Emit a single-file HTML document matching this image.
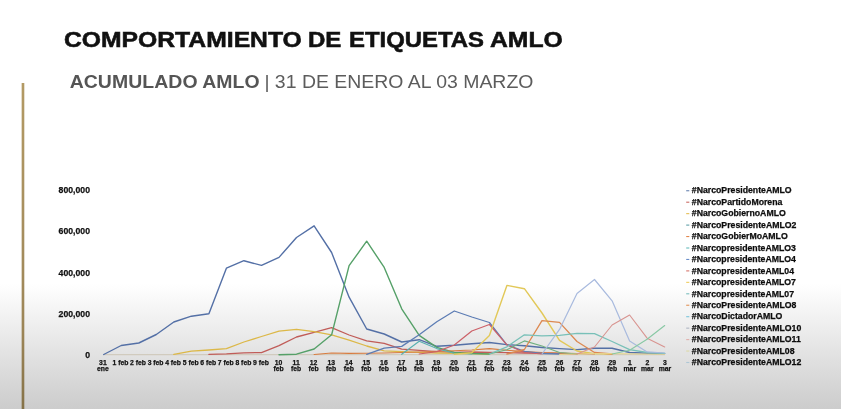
<!DOCTYPE html>
<html lang="es"><head><meta charset="utf-8"><title>Comportamiento de etiquetas AMLO</title>
<style>
html,body{margin:0;padding:0}
body{width:841px;height:409px;overflow:hidden;position:relative;font-family:"Liberation Sans",Arial,sans-serif;
background:linear-gradient(to bottom,#ffffff 0px,#ffffff 284px,#cccccc 409px)}
.bar{position:absolute;left:21px;top:83px;width:4px;height:326px;background:linear-gradient(to bottom,#b39a64 0,#a68e5e 150px,#9b8456 250px,#857248 326px);-webkit-mask-image:linear-gradient(to right,rgba(0,0,0,.35) 0,rgba(0,0,0,.35) 0.7px,#000 0.9px,#000 3.3px,rgba(0,0,0,.3) 3.5px);mask-image:linear-gradient(to right,rgba(0,0,0,.35) 0,rgba(0,0,0,.35) 0.7px,#000 0.9px,#000 3.3px,rgba(0,0,0,.3) 3.5px)}
h1{position:absolute;left:0;top:25.5px;margin:0;font-size:21.9px;line-height:28px;font-weight:bold;color:#111;white-space:nowrap;-webkit-text-stroke:0.55px #111;width:600px;height:28px}
h1 span{position:absolute;top:0;transform-origin:0 0;display:block}
h2{position:absolute;left:69.7px;top:71px;margin:0;font-size:19.45px;line-height:22px;font-weight:normal;color:#5c5c5c;white-space:nowrap;transform-origin:0 5px;transform:scaleY(0.955)}
h2 b{color:#555;letter-spacing:0.05px;margin-right:-0.7px}
.yl{position:absolute;left:40px;width:50px;text-align:right;font-size:8.7px;line-height:10px;font-weight:bold;color:#111;-webkit-text-stroke:0.25px #111}
.xl{position:absolute;top:359.6px;width:30px;text-align:center;font-size:6.8px;line-height:6.4px;font-weight:bold;color:#111;white-space:nowrap;-webkit-text-stroke:0.25px #111}
.lg{position:absolute;left:691.8px;font-size:8.72px;line-height:10px;font-weight:bold;color:#0c0c0c;white-space:nowrap;-webkit-text-stroke:0.25px #0c0c0c}
svg{position:absolute;left:0;top:0}
.soft{filter:blur(0.35px)}
svg{filter:blur(0.3px)}
h1{filter:blur(0.3px)}
h2{filter:blur(0.3px)}
</style></head><body>
<div class="bar"></div>
<h1><span style="left:64px;transform:scaleX(1.128)">COMPORTAMIENTO </span><span style="left:308px;transform:scaleX(1.098)">DE </span><span style="left:348.5px;transform:scaleX(1.092)">ETIQUETAS </span><span style="left:489.8px;transform:scaleX(1.129)">AMLO</span></h1>
<h2><b>ACUMULADO AMLO</b> | 31 DE ENERO AL 03 MARZO</h2>
<div class="soft">
<div class="yl" style="top:185.0px">800,000</div>
<div class="yl" style="top:226.3px">600,000</div>
<div class="yl" style="top:267.5px">400,000</div>
<div class="yl" style="top:308.8px">200,000</div>
<div class="yl" style="top:350.0px">0</div>
<div class="xl" style="left:87.9px">31<br>ene</div>
<div class="xl" style="left:105.5px">1 feb</div>
<div class="xl" style="left:123.0px">2 feb</div>
<div class="xl" style="left:140.6px">3 feb</div>
<div class="xl" style="left:158.1px">4 feb</div>
<div class="xl" style="left:175.7px">5 feb</div>
<div class="xl" style="left:193.3px">6 feb</div>
<div class="xl" style="left:210.8px">7 feb</div>
<div class="xl" style="left:228.4px">8 feb</div>
<div class="xl" style="left:246.0px">9 feb</div>
<div class="xl" style="left:263.5px">10<br>feb</div>
<div class="xl" style="left:281.1px">11<br>feb</div>
<div class="xl" style="left:298.6px">12<br>feb</div>
<div class="xl" style="left:316.2px">13<br>feb</div>
<div class="xl" style="left:333.8px">14<br>feb</div>
<div class="xl" style="left:351.3px">15<br>feb</div>
<div class="xl" style="left:368.9px">16<br>feb</div>
<div class="xl" style="left:386.5px">17<br>feb</div>
<div class="xl" style="left:404.0px">18<br>feb</div>
<div class="xl" style="left:421.6px">19<br>feb</div>
<div class="xl" style="left:439.1px">20<br>feb</div>
<div class="xl" style="left:456.7px">21<br>feb</div>
<div class="xl" style="left:474.3px">22<br>feb</div>
<div class="xl" style="left:491.8px">23<br>feb</div>
<div class="xl" style="left:509.4px">24<br>feb</div>
<div class="xl" style="left:527.0px">25<br>feb</div>
<div class="xl" style="left:544.5px">26<br>feb</div>
<div class="xl" style="left:562.1px">27<br>feb</div>
<div class="xl" style="left:579.6px">28<br>feb</div>
<div class="xl" style="left:597.2px">29<br>feb</div>
<div class="xl" style="left:614.8px">1<br>mar</div>
<div class="xl" style="left:632.3px">2<br>mar</div>
<div class="xl" style="left:649.9px">3<br>mar</div>
<div class="lg" style="top:185.45px">#NarcoPresidenteAMLO</div>
<div class="lg" style="top:196.90px">#NarcoPartidoMorena</div>
<div class="lg" style="top:208.35px">#NarcoGobiernoAMLO</div>
<div class="lg" style="top:219.80px">#NarcoPresidenteAMLO2</div>
<div class="lg" style="top:231.25px">#NarcoGobierMoAMLO</div>
<div class="lg" style="top:242.70px">#NarcopresidenteAMLO3</div>
<div class="lg" style="top:254.15px">#NarcopresidenteAMLO4</div>
<div class="lg" style="top:265.60px">#NarcopresidenteAML04</div>
<div class="lg" style="top:277.05px">#NarcopresidenteAMLO7</div>
<div class="lg" style="top:288.50px">#NarcopresidenteAML07</div>
<div class="lg" style="top:299.95px">#NarcoPresidenteAMLO8</div>
<div class="lg" style="top:311.40px">#NarcoDictadorAMLO</div>
<div class="lg" style="top:322.85px">#NarcoPresidenteAMLO10</div>
<div class="lg" style="top:334.30px">#NarcoPresidenteAMLO11</div>
<div class="lg" style="top:345.75px">#NarcoPresidenteAML08</div>
<div class="lg" style="top:357.20px">#NarcoPresidenteAMLO12</div>
<svg width="841" height="409" viewBox="0 0 841 409" fill="none" stroke-linejoin="round" stroke-linecap="round">
<path d="M103.7 354.7 H664.7" stroke="#cdc6b6" stroke-width="1"/>
<path d="M103.7 354.5 L121.2 345.5 L138.8 343.0 L156.3 334.5 L173.8 322.0 L191.4 316.2 L208.9 313.7 L226.4 268.2 L243.9 260.7 L261.5 265.4 L279.0 257.4 L296.5 237.5 L314.1 225.8 L331.6 252.5 L349.1 297.2 L366.7 329.0 L384.2 334.0 L401.7 342.0 L419.2 339.7 L436.8 346.3 L454.3 345.3 L471.8 343.7 L489.4 342.5 L506.9 344.6 L524.4 345.8 L542.0 347.5 L559.5 348.6 L577.0 349.6 L594.5 348.2 L612.1 348.2 L629.6 352.5 L647.1 353.3 L664.7 353.6" stroke="#5470a6" stroke-width="1.4"/>
<path d="M208.9 354.4 L226.4 353.8 L243.9 352.8 L261.5 352.6 L279.0 345.6 L296.5 337.0 L314.1 332.4 L331.6 327.7 L349.1 335.0 L366.7 340.8 L384.2 343.3 L401.7 349.1 L419.2 350.3 L436.8 351.6 L454.3 352.4 L471.8 352.0 L489.4 352.3 L506.9 352.6 L524.4 353.0 L542.0 353.0 L559.5 353.4 L577.0 354.0" stroke="#c05c58" stroke-width="1.3"/>
<path d="M173.8 354.4 L191.4 351.2 L208.9 350.0 L226.4 348.7 L243.9 342.0 L261.5 336.5 L279.0 331.1 L296.5 329.4 L314.1 331.6 L331.6 334.8 L349.1 340.2 L366.7 346.0 L384.2 350.8 L401.7 351.6 L419.2 352.4 L436.8 353.0 L454.3 353.4 L471.8 353.6 L489.4 354.0" stroke="#dcb848" stroke-width="1.3"/>
<path d="M279.0 354.7 L296.5 354.2 L314.1 349.0 L331.6 334.8 L349.1 265.7 L366.7 241.2 L384.2 267.4 L401.7 308.8 L419.2 335.4 L436.8 347.3 L454.3 352.5 L471.8 353.5 L489.4 354.0" stroke="#55a068" stroke-width="1.4"/>
<path d="M314.1 354.5 L331.6 353.0 L349.1 353.4 L366.7 353.3 L384.2 353.0 L401.7 352.5 L419.2 352.0 L436.8 351.3 L454.3 350.8 L471.8 350.0 L489.4 348.6 L506.9 350.3 L524.4 351.6 L542.0 352.5 L559.5 353.0 L577.0 353.5 L594.5 354.0" stroke="#d87c40" stroke-width="1.1"/>
<path d="M401.7 354.3 L419.2 341.2 L436.8 348.6 L454.3 353.3 L471.8 354.0" stroke="#58b0b0" stroke-width="1.1"/>
<path d="M366.7 354.3 L384.2 348.2 L401.7 346.4 L419.2 334.8 L436.8 321.7 L454.3 311.0 L471.8 317.0 L489.4 322.5 L506.9 344.8 L524.4 351.4 L542.0 353.5 L559.5 354.0" stroke="#5c7cb4" stroke-width="1.3"/>
<path d="M419.2 354.0 L436.8 351.6 L454.3 345.0 L471.8 331.0 L489.4 324.5 L506.9 344.8 L524.4 352.5 L542.0 354.0" stroke="#cc6068" stroke-width="1.2"/>
<path d="M454.3 354.3 L471.8 352.8 L489.4 335.4 L506.9 285.4 L524.4 288.7 L542.0 313.0 L559.5 340.4 L577.0 351.0 L594.5 353.6 L612.1 354.0" stroke="#e2c858" stroke-width="1.4"/>
<path d="M489.4 354.0 L506.9 349.7 L524.4 340.9 L542.0 346.0 L559.5 352.5 L577.0 354.0" stroke="#70b080" stroke-width="1.1"/>
<path d="M506.9 354.0 L524.4 349.5 L542.0 320.6 L559.5 322.4 L577.0 341.5 L594.5 352.5 L612.1 354.0" stroke="#dc8850" stroke-width="1.3"/>
<path d="M559.5 354.4 L577.0 354.0 L594.5 353.6 L612.1 353.6 L629.6 353.8 L647.1 354.0 L664.7 354.2" stroke="#e8d890" stroke-width="1.0"/>
<path d="M489.4 354.0 L506.9 346.8 L524.4 334.8 L542.0 335.8 L559.5 335.3 L577.0 333.3 L594.5 333.7 L612.1 341.5 L629.6 349.7 L647.1 352.5 L664.7 353.3" stroke="#78c0b8" stroke-width="1.3"/>
<path d="M542.0 354.0 L559.5 329.4 L577.0 293.5 L594.5 279.5 L612.1 300.8 L629.6 340.9 L647.1 351.9 L664.7 353.0" stroke="#a8bade" stroke-width="1.2"/>
<path d="M577.0 354.0 L594.5 347.0 L612.1 325.0 L629.6 315.0 L647.1 338.2 L664.7 347.0" stroke="#d89490" stroke-width="1.1"/>
<path d="M612.1 354.0 L629.6 350.3 L647.1 339.3 L664.7 325.5" stroke="#88c8a4" stroke-width="1.1"/>
<path d="M686.2 190.75 h3.1" stroke="#5674a6" stroke-width="1.1" stroke-linecap="butt" opacity="0.9"/>
<path d="M686.2 202.20 h3.1" stroke="#c45a52" stroke-width="1.1" stroke-linecap="butt" opacity="0.9"/>
<path d="M686.2 213.65 h3.1" stroke="#e2b63e" stroke-width="1.1" stroke-linecap="butt" opacity="0.9"/>
<path d="M686.2 225.10 h3.1" stroke="#4f96a0" stroke-width="1.1" stroke-linecap="butt" opacity="0.9"/>
<path d="M686.2 236.55 h3.1" stroke="#e07a3a" stroke-width="1.1" stroke-linecap="butt" opacity="0.9"/>
<path d="M686.2 248.00 h3.1" stroke="#56b4b4" stroke-width="1.1" stroke-linecap="butt" opacity="0.9"/>
<path d="M686.2 259.45 h3.1" stroke="#5b83c4" stroke-width="1.1" stroke-linecap="butt" opacity="0.9"/>
<path d="M686.2 270.90 h3.1" stroke="#d2665c" stroke-width="1.1" stroke-linecap="butt" opacity="0.9"/>
<path d="M686.2 282.35 h3.1" stroke="#ecc84e" stroke-width="1.1" stroke-linecap="butt" opacity="0.9"/>
<path d="M686.2 293.80 h3.1" stroke="#6cb6b6" stroke-width="1.1" stroke-linecap="butt" opacity="0.9"/>
<path d="M686.2 305.25 h3.1" stroke="#e08848" stroke-width="1.1" stroke-linecap="butt" opacity="0.9"/>
<path d="M686.2 316.70 h3.1" stroke="#6cc0d8" stroke-width="1.1" stroke-linecap="butt" opacity="0.9"/>
<path d="M686.2 328.15 h3.1" stroke="#a8b0c0" stroke-width="1.1" stroke-linecap="butt" opacity="0.9"/>
<path d="M686.2 339.60 h3.1" stroke="#e0a8a4" stroke-width="1.1" stroke-linecap="butt" opacity="0.9"/>
<path d="M686.2 351.05 h3.1" stroke="#dcd8a0" stroke-width="1.1" stroke-linecap="butt" opacity="0.9"/>
<path d="M686.2 362.50 h3.1" stroke="#a8c4d4" stroke-width="1.1" stroke-linecap="butt" opacity="0.9"/>
</svg>
</div>
</body></html>
